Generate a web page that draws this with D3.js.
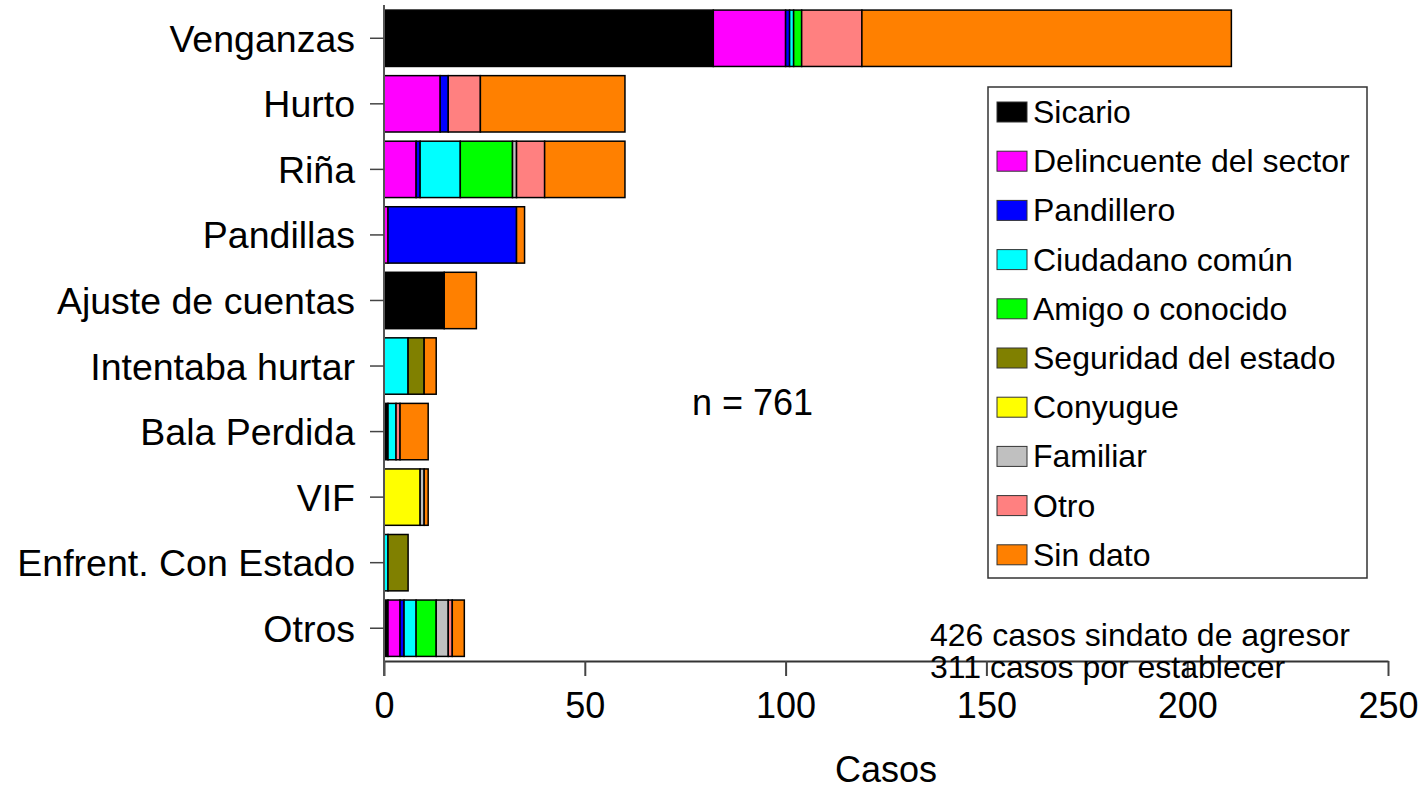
<!DOCTYPE html>
<html><head><meta charset="utf-8">
<script src="https://cdn.jsdelivr.net/npm/d3@7"></script>
<style>body{margin:0;background:#fff}svg{display:block;font-family:"Liberation Sans",Arial,sans-serif}</style>
</head><body><svg id="c" width="1427" height="789"></svg>
<script>
const categories = ["Venganzas","Hurto","Riña","Pandillas","Ajuste de cuentas","Intentaba hurtar","Bala Perdida","VIF","Enfrent. Con Estado","Otros"];
const seriesNames = ["Sicario","Delincuente del sector","Pandillero","Ciudadano común","Amigo o conocido","Seguridad del estado","Conyugue","Familiar","Otro","Sin dato"];
const sicario      = [82, 0, 0, 0, 15, 0, 1, 0, 0, 1];
const delincuente  = [18, 14, 8, 1, 0, 0, 0, 0, 0, 3];
const pandillero   = [1, 2, 1, 32, 0, 0, 0, 0, 0, 1];
const ciudadano    = [1, 0, 10, 0, 0, 6, 2, 0, 1, 3];
const amigo        = [2, 0, 13, 0, 0, 0, 0, 0, 0, 5];
const seguridad    = [0, 0, 0, 0, 0, 4, 0, 0, 5, 0];
const conyugue     = [0, 0, 0, 0, 0, 0, 0, 9, 0, 0];
const familiar     = [0, 0, 1, 0, 0, 0, 0, 1, 0, 3];
const otro         = [15, 8, 7, 0, 0, 0, 1, 0, 0, 1];
const sinDato      = [92, 36, 20, 2, 8, 3, 7, 1, 0, 3];
const xTicks = [0, 50, 100, 150, 200, 250];
const colors = ["#000000","#FF00FF","#0000FF","#00FFFF","#00FF00","#808000","#FFFF00","#C0C0C0","#FF8080","#FF8000"];

const seriesValues = [sicario, delincuente, pandillero, ciudadano, amigo, seguridad, conyugue, familiar, otro, sinDato];
const table = categories.map((c, i) => {
  const row = {cat: c};
  seriesNames.forEach((s, j) => row[s] = seriesValues[j][i]);
  return row;
});

const svg = d3.select("#c");
const x = d3.scaleLinear().domain([0, 250]).range([384, 1388]);
const y = d3.scaleBand().domain(categories).range([5.5, 661]).paddingInner(0.14).paddingOuter(0.07);
const color = d3.scaleOrdinal().domain(seriesNames).range(colors);

const stack = d3.stack().keys(seriesNames)(table);
svg.append("g").selectAll("g").data(stack).join("g")
  .attr("fill", d => color(d.key))
  .selectAll("rect").data(d => d.filter(s => s[1] - s[0] > 0)).join("rect")
  .attr("x", d => x(d[0])).attr("width", d => x(d[1]) - x(d[0]))
  .attr("y", d => y(d.data.cat)).attr("height", y.bandwidth())
  .attr("stroke", "#000").attr("stroke-width", 1.5);

// x axis
const xa = svg.append("g").attr("transform", "translate(0,661)")
  .call(d3.axisBottom(x).tickValues(xTicks).tickSize(15).tickPadding(16).tickSizeOuter(0));
xa.select(".domain").attr("stroke", "#333").attr("stroke-width", 2);
xa.selectAll(".tick line").attr("stroke", "#444").attr("stroke-width", 2);
xa.selectAll(".tick text").attr("font-size", 36).attr("fill", "#000").attr("font-family", "Liberation Sans, Arial");

// y axis
const ya = svg.append("g").attr("transform", "translate(384,0)")
  .call(d3.axisLeft(y).tickSize(14).tickPadding(15).tickSizeOuter(0));
ya.select(".domain").attr("stroke", "#555").attr("stroke-width", 2).attr("d", "M0,5V676");
ya.selectAll(".tick line").attr("stroke", "#444").attr("stroke-width", 1.5);
ya.selectAll(".tick text").attr("font-size", 37.5).attr("fill", "#000").attr("dy", "0.36em").attr("font-family", "Liberation Sans, Arial");

// axis title
svg.append("text").attr("x", 886).attr("y", 782).attr("text-anchor", "middle").attr("font-size", 36).text("Casos");

// annotations
svg.append("text").attr("x", 692).attr("y", 415).attr("font-size", 36).text("n = 761");
svg.append("text").attr("x", 930).attr("y", 646).attr("font-size", 32).text("426 casos sindato de agresor");
svg.append("text").attr("x", 930).attr("y", 678).attr("font-size", 32).text("311 casos por establecer");

// legend
const lg = svg.append("g");
lg.append("rect").attr("x", 988).attr("y", 87).attr("width", 379).attr("height", 491)
  .attr("fill", "#fff").attr("stroke", "#333").attr("stroke-width", 1.5);
const items = lg.selectAll("g.it").data(seriesNames).join("g").attr("class", "it")
  .attr("transform", (d, i) => `translate(997,${112 + i * 49.2})`);
items.append("rect").attr("x", 0).attr("y", -10).attr("width", 30).attr("height", 20)
  .attr("fill", d => color(d)).attr("stroke", "#333").attr("stroke-width", 1);
items.append("text").attr("x", 36).attr("y", 11).attr("font-size", 32).text(d => d);
</script></body></html>
